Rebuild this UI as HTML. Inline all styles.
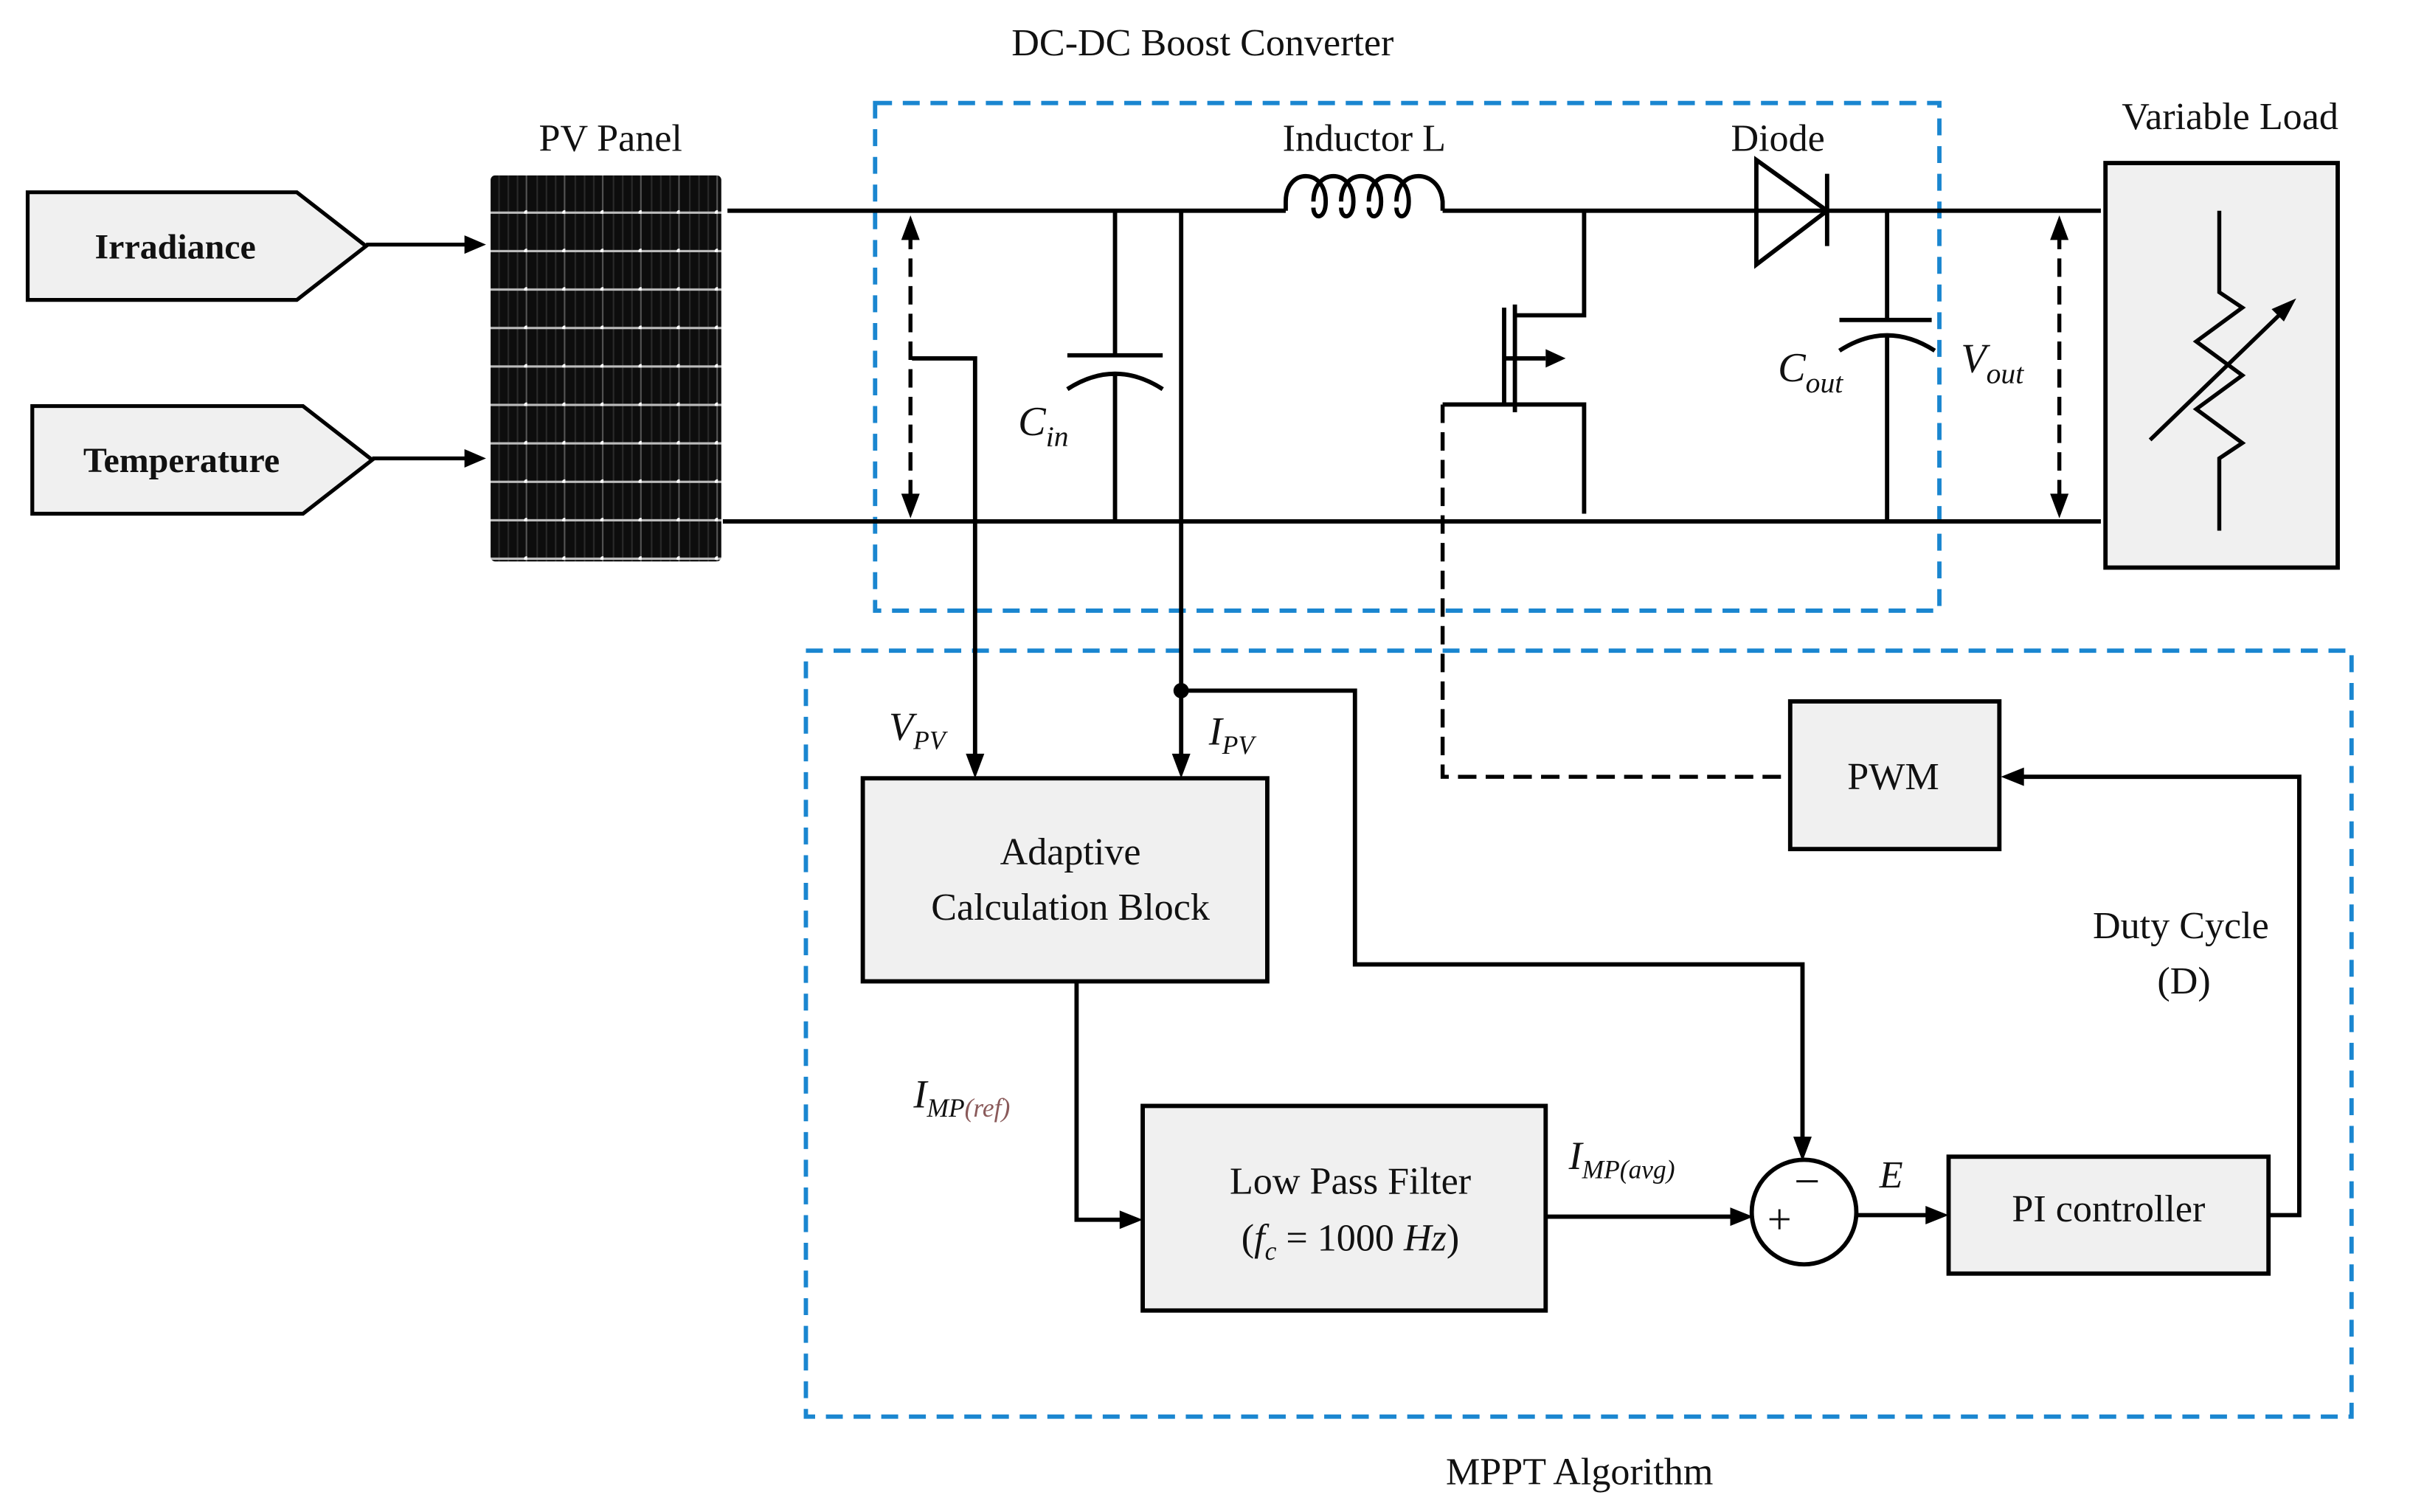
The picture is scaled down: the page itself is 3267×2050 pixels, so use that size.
<!DOCTYPE html>
<html><head><meta charset="utf-8">
<style>
html,body{margin:0;padding:0;background:#fff;}
svg{display:block;}
text{font-family:"Liberation Serif",serif;fill:#111;}
.it{font-style:italic;}
</style></head>
<body>
<svg width="3267" height="2050" viewBox="0 0 1567 983" preserveAspectRatio="none" xmlns="http://www.w3.org/2000/svg">
<defs>
<pattern id="pv" x="318" y="114" width="24.8" height="25" patternUnits="userSpaceOnUse">
<rect width="24.8" height="25" fill="#0d0d0d"/>
<rect x="6" y="0" width="1" height="25" fill="#2a2a2a"/>
<rect x="12" y="0" width="1" height="25" fill="#2a2a2a"/>
<rect x="18" y="0" width="1" height="25" fill="#2a2a2a"/>
<rect x="0" y="23.5" width="24.8" height="1.5" fill="#bbb"/>
<rect x="23.8" y="0" width="1" height="25" fill="#555"/>
<circle cx="24.3" cy="24.2" r="1.6" fill="#fff"/>
</pattern>
</defs>

<rect x="569" y="67" width="692" height="330" fill="none" stroke="#1a86d0" stroke-width="2.8" stroke-dasharray="11,7"/>
<rect x="524" y="423" width="1005" height="498" fill="none" stroke="#1a86d0" stroke-width="2.8" stroke-dasharray="11,7"/>

<text x="782" y="36" font-size="25" text-anchor="middle">DC-DC Boost Converter</text>
<text x="1027" y="965" font-size="25" text-anchor="middle">MPPT Algorithm</text>

<polygon points="18,125 193,125 238,160 193,195 18,195" fill="#f0f0f0" stroke="#000" stroke-width="2.5"/>
<text x="114" y="168" font-size="23" font-weight="bold" text-anchor="middle">Irradiance</text>
<line x1="238" y1="159" x2="305" y2="159" stroke="#000" stroke-width="2.5"/>
<polygon points="316,159 302,153 302,165" fill="#000"/>
<polygon points="21,264 197,264 242,299 197,334 21,334" fill="#f0f0f0" stroke="#000" stroke-width="2.5"/>
<text x="118" y="307" font-size="23" font-weight="bold" text-anchor="middle">Temperature</text>
<line x1="242" y1="298" x2="305" y2="298" stroke="#000" stroke-width="2.5"/>
<polygon points="316,298 302,292 302,304" fill="#000"/>

<text x="397" y="98" font-size="25" text-anchor="middle">PV Panel</text>
<rect x="319" y="114" width="150" height="251" rx="3" fill="url(#pv)"/>

<g stroke="#000" stroke-width="2.8" fill="none">
<path d="M473,137 H836"/>
<path d="M836,137 v-6 c0,-22 26,-22 26,0 c0,12 -8,12 -8,4 M854,131 c0,-22 26,-22 26,0 c0,12 -8,12 -8,4 M872,131 c0,-22 26,-22 26,0 c0,12 -8,12 -8,4 M890,131 c0,-22 26,-22 26,0 c0,12 -8,12 -8,4 M908,131 c0,-22 28,-22 30,0 v6"/>
<path d="M938,137 H1366"/>
<path d="M470,339 H1366"/>
<path d="M725,137 V231 M694,231 H756 M694,253 Q725,233 756,253 M725,243 V339"/>
<path d="M1227,137 V208 M1196,208 H1256 M1196,228 Q1227,208 1258,228 M1227,218 V339"/>
<path d="M1142,104 L1188,137 L1142,172 Z M1188,113 V160"/>
<path d="M1030,137 V205 H985 M985,198 V268 M978,200 V263 M978,233 H1005 M938,263 H1030 V334 M985,216 V232"/>
<path d="M768,137 V500"/>
<path d="M768,449 H881 V627 H1172 V748"/>
<path d="M593,233 H634 V500"/>
<path d="M700,638 V793 H738"/>
<path d="M1005,791 H1136"/>
<path d="M1207,790 H1262"/>
<path d="M1475,790 H1495 V505 H1306"/>
</g>
<polygon points="1018,233 1005,227 1005,239" fill="#000"/>
<circle cx="768" cy="449" r="5" fill="#000"/>
<polygon points="634,506 628,490 640,490" fill="#000"/>
<polygon points="768,506 762,490 774,490" fill="#000"/>
<polygon points="743,793 728,787 728,799" fill="#000"/>
<polygon points="1172,755 1166,739 1178,739" fill="#000"/>
<polygon points="1140,791 1125,785 1125,797" fill="#000"/>
<polygon points="1267,790 1252,784 1252,796" fill="#000"/>
<polygon points="1301,505 1316,499 1316,511" fill="#000"/>

<g stroke="#000" stroke-width="2.6" fill="none" stroke-dasharray="12,6">
<path d="M592,150 V326"/>
<path d="M1339,150 V326"/>
<path d="M938,263 V505 H1164"/>
</g>
<polygon points="592,140 586,156 598,156" fill="#000"/>
<polygon points="592,337 586,321 598,321" fill="#000"/>
<polygon points="1339,140 1333,156 1345,156" fill="#000"/>
<polygon points="1339,337 1333,321 1345,321" fill="#000"/>

<text x="887" y="98" font-size="25" text-anchor="middle">Inductor L</text>
<text x="1156" y="98" font-size="25" text-anchor="middle">Diode</text>
<text x="1450" y="84" font-size="25" text-anchor="middle">Variable Load</text>
<text x="662" y="283" font-size="27" class="it">C<tspan font-size="19" dy="7">in</tspan></text>
<text x="1156" y="248" font-size="27" class="it">C<tspan font-size="19" dy="7">out</tspan></text>
<text x="1275" y="242" font-size="27" class="it">V<tspan font-size="19" dy="7">out</tspan></text>

<rect x="1369" y="106" width="151" height="263" fill="#f0f0f0" stroke="#000" stroke-width="2.8"/>
<g stroke="#000" stroke-width="2.6" fill="none">
<path d="M1443,137 V190 L1458,200 L1428,222 L1458,244 L1428,266 L1458,288 L1443,298 V345"/>
<path d="M1398,286 L1487,200"/>
</g>
<polygon points="1493,194 1477,201 1485,209" fill="#000"/>

<rect x="561" y="506" width="263" height="132" fill="#f0f0f0" stroke="#000" stroke-width="2.8"/>
<text x="696" y="562" font-size="25" text-anchor="middle">Adaptive</text>
<text x="696" y="598" font-size="25" text-anchor="middle">Calculation Block</text>
<rect x="743" y="719" width="262" height="133" fill="#f0f0f0" stroke="#000" stroke-width="2.8"/>
<text x="878" y="776" font-size="25" text-anchor="middle">Low Pass Filter</text>
<text x="878" y="813" font-size="25" text-anchor="middle">(<tspan class="it">f</tspan><tspan class="it" font-size="17" dy="6">c</tspan><tspan dy="-6"> = 1000 </tspan><tspan class="it">Hz</tspan>)</text>
<rect x="1164" y="456" width="136" height="96" fill="#f0f0f0" stroke="#000" stroke-width="2.8"/>
<text x="1231" y="513" font-size="25" text-anchor="middle">PWM</text>
<rect x="1267" y="752" width="208" height="76" fill="#f0f0f0" stroke="#000" stroke-width="2.8"/>
<text x="1371" y="794" font-size="25" text-anchor="middle">PI controller</text>
<circle cx="1173" cy="788" r="34" fill="#fff" stroke="#000" stroke-width="2.8"/>
<text x="1175" y="778" font-size="30" text-anchor="middle">−</text>
<text x="1157" y="802" font-size="28" text-anchor="middle">+</text>

<text x="1418" y="610" font-size="25" text-anchor="middle">Duty Cycle</text>
<text x="1420" y="646" font-size="25" text-anchor="middle">(D)</text>

<text x="578" y="481" font-size="26" class="it">V<tspan font-size="17" dy="6">PV</tspan></text>
<text x="786" y="484" font-size="26" class="it">I<tspan font-size="17" dy="6">PV</tspan></text>
<text x="594" y="720" font-size="26" class="it">I<tspan font-size="17" dy="6">MP</tspan><tspan font-size="17" fill="#8a5a5a">(ref)</tspan></text>
<text x="1020" y="760" font-size="26" class="it">I<tspan font-size="17" dy="6">MP</tspan><tspan font-size="17">(avg)</tspan></text>
<text x="1222" y="772" font-size="25" class="it">E</text>
</svg>
</body></html>
